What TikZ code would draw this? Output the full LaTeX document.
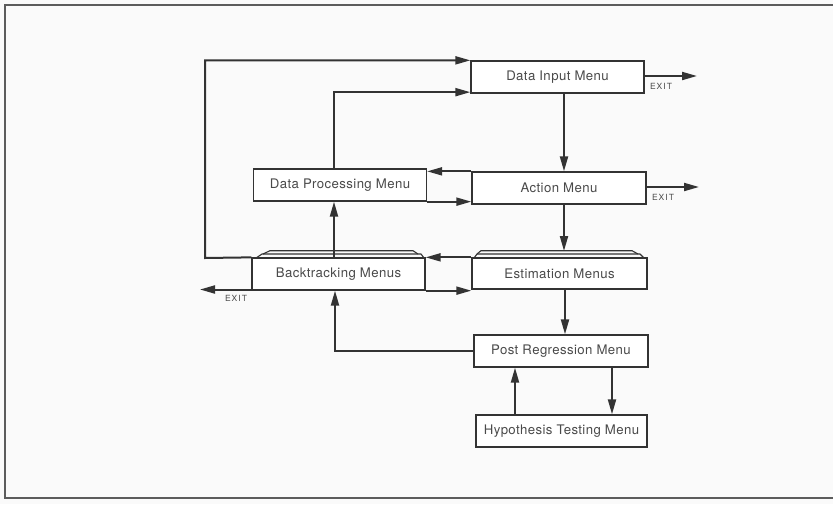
\documentclass[tikz,border=0pt]{standalone}
\usepackage{fontspec}
\setmainfont{TeX Gyre Heros}
\newfontfamily\boxfont[LetterSpace=3]{TeX Gyre Heros}
\newfontfamily\exitfont[LetterSpace=12]{TeX Gyre Heros}
\usetikzlibrary{arrows.meta}
\definecolor{ink}{HTML}{333333}
\definecolor{txt}{HTML}{4A4A4A}
\definecolor{paper}{HTML}{FAFAFA}
\begin{document}
\begin{tikzpicture}[x=1pt,y=-1pt,
  menu/.style={draw=ink, line width=1.3pt, fill=white, minimum width=174pt, minimum height=32pt,
    inner sep=0pt, font=\boxfont\fontsize{13.2}{15}\selectfont, text=txt},
  conn/.style={draw=ink, line width=2pt, -{Triangle[length=15pt,width=8pt]}},
  exitlbl/.style={font=\exitfont\fontsize{8.5}{9}\selectfont, text=txt, inner sep=0pt},
  layer/.style={draw=ink, line width=1.1pt, line join=round},
  framed/.style={draw=ink!80, line width=2pt}]
\useasboundingbox[fill=paper] (0,0) rectangle (833,504);
\draw[framed] (833,4.5) -- (4.5,4.5) -- (4.5,497.5) -- (833,497.5);

% nodes
\node[menu, minimum width=173pt] (di) at (557.5,77) {Data Input Menu};
\node[menu] (ac) at (559,188) {Action Menu};
\node[menu, minimum width=173pt] (dp) at (340,185) {Data Processing Menu};
\node[menu, minimum width=173pt] (bt) at (338.5,274) {Backtracking Menus};
\node[menu, minimum width=175pt, minimum height=31pt] (es) at (559.5,273.5) {Estimation Menus};
\node[menu] (pr) at (561,351) {Post Regression Menu};
\node[menu, minimum width=171pt] (hy) at (561.5,431) {Hypothesis Testing Menu};

% stacked layers
\draw[layer] (474,258) -- (477,254) -- (640,254) -- (644,258);
\draw[layer] (477,254) -- (481,250.7) -- (632,250.7) -- (638,254);
\draw[layer] (256,258) -- (262,254) -- (421,254) -- (424,258);
\draw[layer] (263,254) -- (270,250.7) -- (413,250.7) -- (418,254);

% helper coordinates
\coordinate (vA) at (334,0);
\coordinate (vB) at (564,0);
\coordinate (vC) at (565,0);
\coordinate (vD) at (335,0);
\coordinate (vE) at (612,0);
\coordinate (vF) at (515,0);
\coordinate (esTop) at (564,251);
\coordinate (xDI) at (697,76);
\coordinate (xAC) at (699,187);
\coordinate (xBT) at (200,289.5);

% connectors
\draw[conn] (bt.north west) -- (205,258) |- (di.north west);
\draw[conn] (bt.north -| vA) -- (dp.south -| vA);
\draw[conn] (dp.north -| vA) |- ([yshift=1.5pt]di.south west);
\draw[conn] (di.south -| vB) -- (ac.north -| vB);
\draw[conn] (ac.north west) -- (ac.north west -| dp.east);
\draw[conn] (dp.south east) -- (dp.south east -| ac.west);
\draw[conn] (ac.south -| vB) -- (esTop);
\draw[conn] (es.north west) -- (es.north west -| bt.east);
\draw[conn] (bt.south east) -- (bt.south east -| es.west);
\draw[conn] (es.south -| vC) -- (pr.north -| vC);
\draw[conn] (pr.west) -| (bt.south -| vD);
\draw[conn] (pr.south -| vE) -- (hy.north -| vE);
\draw[conn] (hy.north -| vF) -- (pr.south -| vF);
\draw[conn] (di.east |- xDI) -- (xDI);
\draw[conn] (ac.east |- xAC) -- (xAC);
\draw[conn] (bt.south west |- xBT) -- (xBT);

% exit labels
\node[exitlbl] (eDI) at (661,86) {EXIT};
\node[exitlbl] (eAC) at (663,197) {EXIT};
\node[exitlbl] (eBT) at (236,298) {EXIT};
\end{tikzpicture}
\end{document}
